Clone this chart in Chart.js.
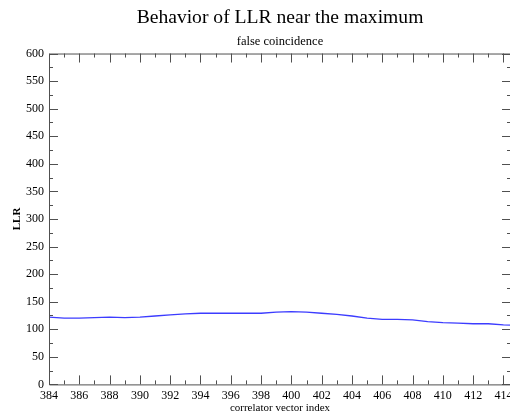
<!DOCTYPE html>
<html>
<head>
<meta charset="utf-8">
<script src="https://cdn.jsdelivr.net/npm/chart.js@4/dist/chart.umd.min.js"></script>
<style>
  html, body { margin: 0; padding: 0; background: #fff; overflow: hidden; }
  #wrap { width: 510px; height: 412px; overflow: hidden; }
</style>
</head>
<body>
<div id="wrap"><canvas id="c" width="511" height="412"></canvas></div>
<script>
// correlator vector index and the log-likelihood ratio at each index
const indices = [384, 385, 386, 387, 388, 389, 390, 391, 392, 393, 394, 395, 396, 397, 398, 399,
                 400, 401, 402, 403, 404, 405, 406, 407, 408, 409, 410, 411, 412, 413, 414, 415];
const llr = [122, 120, 120, 121, 122, 121, 122, 124, 126, 128, 129, 129, 129, 129, 129, 131,
             132, 131, 129, 127, 124, 120, 118, 118, 117, 114, 112, 111, 110, 110, 108, 107];
const xRange = [384, 414.5];
const yRange = [0, 600];
const yStep = 50;
const xStep = 2;

const serif = "'Liberation Serif', 'DejaVu Serif', serif";
const axisColor = '#505050';

// inward-pointing major/minor ticks on all four sides, plus the frame
const frameTicks = {
  id: 'frameTicks',
  afterDatasetsDraw(chart) {
    const { ctx, chartArea: a, scales: { x, y } } = chart;
    ctx.save();
    ctx.strokeStyle = axisColor;
    ctx.lineWidth = 1;
    ctx.beginPath();
    ctx.moveTo(a.left + 0.5, a.bottom + 0.5);
    ctx.lineTo(a.left + 0.5, a.top + 0.5);
    ctx.lineTo(a.right + 0.5, a.top + 0.5);
    ctx.lineTo(a.right + 0.5, a.bottom + 0.5);
    ctx.lineTo(a.left + 0.5, a.bottom + 0.5);
    for (let v = Math.ceil(xRange[0]); v <= xRange[1]; v += 1) {
      const px = Math.round(x.getPixelForValue(v)) + 0.5;
      const len = (v - xRange[0]) % xStep === 0 ? 9 : 4;
      ctx.moveTo(px, a.bottom); ctx.lineTo(px, a.bottom - len);
      ctx.moveTo(px, a.top); ctx.lineTo(px, a.top + len);
    }
    for (let v = yRange[0]; v <= yRange[1]; v += yStep / 2) {
      const py = Math.round(y.getPixelForValue(v)) + 0.5;
      const len = v % yStep === 0 ? 9 : 4;
      ctx.moveTo(a.left, py); ctx.lineTo(a.left + len, py);
      ctx.moveTo(a.right, py); ctx.lineTo(a.right - len, py);
    }
    ctx.stroke();
    ctx.restore();
  }
};

new Chart(document.getElementById('c'), {
  type: 'line',
  data: {
    labels: indices,
    datasets: [{
      data: indices.map((v, i) => ({ x: v, y: llr[i] })),
      borderColor: '#3c3cff',
      borderWidth: 1.3,
      pointRadius: 0,
      tension: 0,
      fill: false
    }]
  },
  options: {
    responsive: false,
    animation: false,
    devicePixelRatio: 1,
    layout: { padding: { left: 11, right: 0, top: 0, bottom: -3 } },
    plugins: {
      legend: { display: false },
      tooltip: { enabled: false },
      title: {
        display: true,
        fullSize: false,
        text: 'Behavior of LLR near the maximum',
        color: '#000',
        font: { family: serif, size: 19.6, weight: 'normal' },
        padding: { top: 6, bottom: 5 }
      },
      subtitle: {
        display: true,
        fullSize: false,
        text: 'false coincidence',
        color: '#000',
        font: { family: serif, size: 12.5, weight: 'normal' },
        padding: { top: 0, bottom: 4 }
      }
    },
    scales: {
      x: {
        type: 'linear',
        min: xRange[0],
        max: xRange[1],
        grid: { display: false, drawTicks: false },
        border: { display: false },
        afterBuildTicks(scale) {
          const t = [];
          for (let v = xRange[0]; v <= xRange[1]; v += xStep) t.push({ value: v });
          scale.ticks = t;
        },
        afterFit(scale) { scale.paddingRight = 0; scale.paddingLeft = 0; },
        ticks: {
          color: '#000',
          font: { family: serif, size: 12 },
          padding: 4,
          maxRotation: 0,
          autoSkip: false
        },
        title: {
          display: true,
          text: 'correlator vector index',
          color: '#000',
          font: { family: serif, size: 11 },
          padding: { top: -5, bottom: 0 }
        }
      },
      y: {
        min: yRange[0],
        max: yRange[1],
        grid: { display: false, drawTicks: false },
        border: { display: false },
        afterFit(scale) { scale.paddingTop = 0; scale.paddingBottom = 0; scale.width = 38; },
        ticks: {
          stepSize: yStep,
          color: '#000',
          font: { family: serif, size: 12 },
          padding: 5
        },
        title: {
          display: true,
          text: 'LLR',
          color: '#000',
          font: { family: serif, size: 11, weight: 'bold' },
          padding: { top: 0, bottom: 0 }
        }
      }
    }
  },
  plugins: [frameTicks]
});
</script>
</body>
</html>
